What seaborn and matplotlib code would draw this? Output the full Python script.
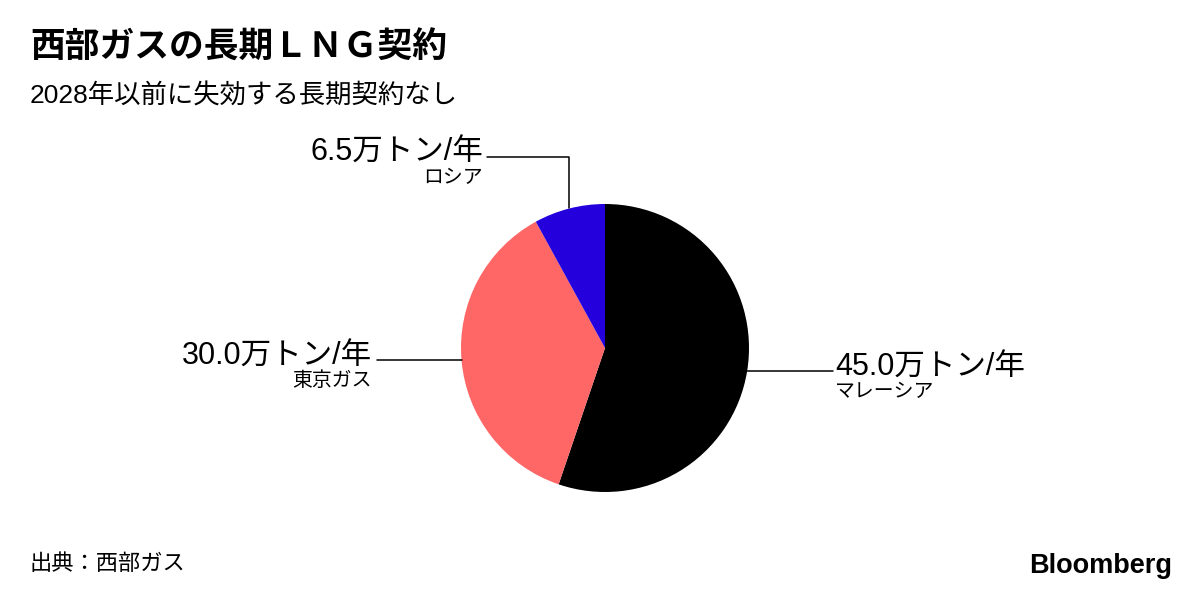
import numpy as np
import matplotlib
matplotlib.use("Agg")
import matplotlib.pyplot as plt
import seaborn as sns

# ---- data ----
suppliers = ["マレーシア", "東京ガス", "ロシア"]
volumes = [45.0, 30.0, 6.5]          # 万トン/年
colors = ["#000000", "#FF6666", "#2300DC"]
title = "西部ガスの長期ＬＮＧ契約"
subtitle = "2028年以前に失効する長期契約なし"
source = "出典：西部ガス"
unit = "万トン/年"

sns.set_theme(style="white")
plt.rcParams["font.family"] = ["Liberation Sans", "Noto Sans CJK JP", "DejaVu Sans"]

W, H = 1200, 595
fig = plt.figure(figsize=(W / 100, H / 100), dpi=100)
fig.patch.set_facecolor("white")

# pie axes: centre (605,348) px, radius 144 px
R = 144
cx, cy = 605, 348
ax = fig.add_axes([(cx - R) / W, (H - cy - R) / H, 2 * R / W, 2 * R / H])
wedges, _ = ax.pie(volumes, colors=colors, startangle=90, counterclock=False,
                   radius=1.0, wedgeprops=dict(linewidth=0))
ax.set_xlim(-1, 1)
ax.set_ylim(-1, 1)
ax.set_aspect("equal")
ax.axis("off")

px = 1.0 / R  # one pixel in data units
main_fs = 22
sub_fs = 14.3
lab_fam = ["Liberation Sans", "Noto Sans CJK JP"]

for w, val, name in zip(wedges, volumes, suppliers):
    mid = np.deg2rad((w.theta1 + w.theta2) / 2)
    ex, ey = np.cos(mid), np.sin(mid)
    main = f"{val:.1f}{unit}"
    if abs(ey) > 0.8:
        # top wedge: vertical up then horizontal left
        y1 = 1.326
        x2 = -0.819
        ax.plot([ex, ex, x2], [ey, y1, y1], color="black", lw=1.1, clip_on=False)
        tx, ty = x2 - 4 * px, y1
        ha = "right"
    elif ex < 0:
        x2 = -1.583
        ax.plot([ex, x2], [ey, ey], color="black", lw=1.1, clip_on=False)
        tx, ty = x2 - 5 * px, ey
        ha = "right"
    else:
        x2 = 1.583
        ax.plot([ex, x2], [ey, ey], color="black", lw=1.1, clip_on=False)
        tx, ty = x2 + 2 * px, ey
        ha = "left"
    ax.text(tx, ty - 4 * px, main, ha=ha, va="baseline", fontsize=main_fs,
            family=lab_fam, color="black", clip_on=False)
    ax.text(tx, ty - 10 * px, name, ha=ha, va="top", fontsize=sub_fs,
            family=["Noto Sans CJK JP"], color="black", clip_on=False)

fig.text(30 / W, 1 - 30 / H, title, ha="left", va="top", fontsize=25,
         fontweight="bold", family=["Noto Sans CJK JP"], color="black")
fig.text(30 / W, 1 - 83 / H, subtitle, ha="left", va="top", fontsize=19,
         family=["Liberation Sans", "Noto Sans CJK JP"], color="black")
fig.text(30 / W, 1 - 552 / H, source, ha="left", va="top", fontsize=16,
         family=["Noto Sans CJK JP"], color="black")
fig.text(1172 / W, 1 - 553 / H, "Bloomberg", ha="right", va="top", fontsize=19.5,
         fontweight="bold", family=["Liberation Sans"], color="black")

fig.savefig("out.png", dpi=100, facecolor="white")
